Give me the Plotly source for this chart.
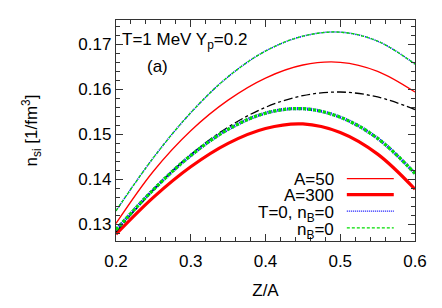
import plotly.graph_objects as go

z_over_a = [0.2, 0.25, 0.3, 0.35, 0.4, 0.45, 0.5, 0.55, 0.6]

a50 = [0.1302, 0.1418, 0.1508, 0.1576, 0.1625, 0.1654, 0.1660, 0.1640, 0.1594]
a300 = [0.1278, 0.1360, 0.1428, 0.1480, 0.1513, 0.1523, 0.1504, 0.1456, 0.1378]
t0_nb0_a50 = [0.1330, 0.1448, 0.1548, 0.1628, 0.1685, 0.1718, 0.1727, 0.1707, 0.1656]
nb0_a50 = t0_nb0_a50
t0_nb0_a300 = [0.1288, 0.1377, 0.1453, 0.1511, 0.1547, 0.1557, 0.1538, 0.1491, 0.1413]
nb0_a300 = t0_nb0_a300
dashdot = [0.1283, 0.1376, 0.1455, 0.1516, 0.1560, 0.1586, 0.1594, 0.1583, 0.1555]

legend_labels = ["A=50", "A=300", "T=0, n<sub>B</sub>=0", "n<sub>B</sub>=0"]

FONT = "Liberation Sans, Arial, sans-serif"
GREEN_DASH = "3px,2px"
BLUE_DOT = "1px,1px"

fig = go.Figure()

def add(y, color, width, dash, name):
    fig.add_trace(go.Scatter(x=z_over_a, y=y, mode="lines", name=name,
                             line=dict(color=color, width=width, dash=dash,
                                       shape="spline", smoothing=1.0),
                             showlegend=False, hoverinfo="skip"))

add(a50, "#ff0000", 1.3, "solid", "A=50")
add(a300, "#ff0000", 3.2, "solid", "A=300")
add(dashdot, "#000000", 1.3, "dashdot", "other")
add(t0_nb0_a50, "#0000ff", 1.5, BLUE_DOT, "T=0, nB=0")
add(nb0_a50, "#00dd00", 1.3, GREEN_DASH, "nB=0")
add(t0_nb0_a300, "#0000ff", 3.2, BLUE_DOT, "T=0, nB=0 (A=300)")
add(nb0_a300, "#00e000", 3.2, GREEN_DASH, "nB=0 (A=300)")

# legend drawn with annotations and sample lines (text left of sample)
leg_styles = [("#ff0000", 1.3, "solid"), ("#ff0000", 3.2, "solid"),
              ("#0000ff", 1.3, BLUE_DOT), ("#00dd00", 1.3, GREEN_DASH)]
leg_y = [0.282, 0.210, 0.135, 0.059]
leg_text_dy = [-0.004, -0.004, -0.014, -0.014]
for lab, (c, w, d), yy, dy in zip(legend_labels, leg_styles, leg_y, leg_text_dy):
    fig.add_annotation(x=0.735, y=yy + dy, xref="paper", yref="paper", text=lab,
                       showarrow=False, xanchor="right", yanchor="middle",
                       font=dict(family=FONT, size=17, color="black"))
    fig.add_shape(type="line", xref="paper", yref="paper", x0=0.772, x1=0.929,
                  y0=yy, y1=yy, line=dict(color=c, width=w, dash=d))

fig.add_annotation(x=0.012, y=0.905, xref="paper", yref="paper",
                   text="T=1 MeV Y<sub>p</sub>=0.2", showarrow=False,
                   xanchor="left", yanchor="middle",
                   font=dict(family=FONT, size=17, color="black"))
fig.add_annotation(x=0.14, y=0.79, xref="paper", yref="paper",
                   text="(a)", showarrow=False, xanchor="center", yanchor="middle",
                   font=dict(family=FONT, size=17, color="black"))

axis_common = dict(showgrid=False, zeroline=False, showline=True,
                   linecolor="#333333", linewidth=1.2, mirror="ticks",
                   ticks="inside", ticklen=7, tickwidth=1, tickcolor="#333333",
                   tickfont=dict(family=FONT, size=17, color="black"))

fig.update_xaxes(range=[0.2, 0.6], tickvals=[0.2, 0.3, 0.4, 0.5, 0.6],
                 ticktext=["0.2", "0.3", "0.4", "0.5", "0.6"],
                 ticklabelstandoff=4,
                 minor=dict(dtick=0.02, ticks="inside", ticklen=4, tickcolor="#333333"),
                 title=dict(text="Z/A", font=dict(family=FONT, size=17, color="black"),
                            standoff=14),
                 **axis_common)
fig.update_yaxes(range=[0.1263, 0.1754], tickvals=[0.13, 0.14, 0.15, 0.16, 0.17],
                 ticktext=["0.13", "0.14", "0.15", "0.16", "0.17"],
                 minor=dict(dtick=0.002, tick0=0.13, ticks="inside", ticklen=4, tickcolor="#333333"),
                 title=dict(text="n<sub>si</sub> [1/fm<sup>3</sup>]",
                            font=dict(family=FONT, size=17, color="black"), standoff=36),
                 **axis_common)

fig.update_layout(width=442, height=308, plot_bgcolor="white", paper_bgcolor="white",
                  margin=dict(l=116, r=27, t=20, b=57), showlegend=False)

fig.write_html("out.html", config={"displayModeBar": False, "staticPlot": True},
               post_script="document.body.style.margin='0';")
